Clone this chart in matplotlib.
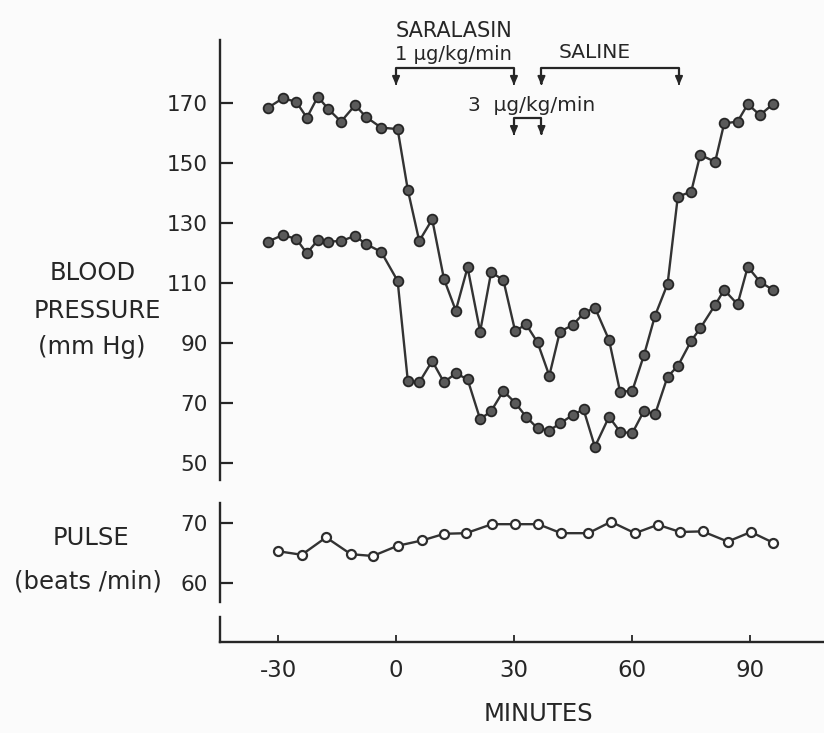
import numpy as np
from matplotlib import pyplot as plt

# 数据
minutes_bp = [-32.6, -28.8, -25.4, -22.7, -19.9, -17.2, -14.0, -10.4, -7.7, -3.8,
              0.4, 3.0, 5.9, 9.2, 12.2, 15.2, 18.2, 21.4, 24.2, 27.3,
              30.3, 33.1, 36.0, 39.0, 41.7, 45.0, 47.7, 50.6, 54.2, 57.0,
              60.1, 63.1, 65.9, 69.1, 71.7, 75.1, 77.4, 81.2, 83.5, 86.9,
              89.5, 92.6, 95.9]
systolic = [168.4, 171.6, 170.4, 165.1, 172.1, 167.9, 163.8, 169.3, 165.4, 161.8,
            161.3, 141.0, 124.0, 131.2, 111.3, 100.8, 115.2, 93.8, 113.6, 111.0,
            94.0, 96.2, 90.2, 79.1, 93.8, 96.0, 99.9, 101.8, 91.0, 73.8,
            74.0, 86.0, 99.1, 109.7, 138.8, 140.4, 152.7, 150.4, 163.2, 163.8,
            169.6, 166.0, 169.6]
diastolic = [123.8, 126.0, 124.7, 119.9, 124.3, 123.8, 124.0, 125.7, 123.0, 120.4,
             110.7, 77.3, 76.9, 84.0, 76.9, 79.9, 77.9, 64.6, 67.3, 74.0,
             70.1, 65.4, 61.6, 60.8, 63.2, 66.0, 67.9, 55.4, 65.4, 60.4,
             59.9, 67.4, 66.2, 78.8, 82.3, 90.7, 94.9, 102.7, 107.7, 102.9,
             115.4, 110.4, 107.7]

minutes_pulse = [-30.1, -24.0, -17.8, -11.5, -5.9, 0.4, 6.7, 12.3, 17.8, 24.4, 30.3,
                 36.2, 42.0, 48.9, 54.7, 60.8, 66.6, 72.3, 78.0, 84.4, 90.3, 96.0]
pulse = [65.3, 64.7, 67.6, 64.8, 64.5, 66.2, 67.1, 68.2, 68.3, 69.8, 69.8,
         69.8, 68.3, 68.3, 70.2, 68.3, 69.7, 68.5, 68.6, 66.9, 68.5, 66.7]

bp_ticks = [50, 70, 90, 110, 130, 150, 170]
pulse_ticks = [60, 70]
x_ticks = [-30, 0, 30, 60, 90]
x_labels = ['-30', '0', '30', '60', '90']

# 给药时段 (开始, 结束)
saralasin_1 = (0, 30)
saralasin_3 = (30, 37)
saline = (37, 72)

ink = '#262626'
plt.rcParams['font.family'] = ['DejaVu Sans']
plt.rcParams['text.color'] = ink

W, H = 824, 733
fig = plt.figure(figsize=(W / 100, H / 100), dpi=100, facecolor='#fbfbfb')
xlim = (-44.8, 108.9)


def box(top, bottom):
    return [220 / W, (H - bottom) / H, (W - 220) / W, (bottom - top) / H]


ax_bp = fig.add_axes(box(40, 480))
ax_pu = fig.add_axes(box(503, 602))
ax_x = fig.add_axes(box(617, 642))

for ax in (ax_bp, ax_pu, ax_x):
    ax.set_facecolor('none')
    ax.set_xlim(xlim)
    for s in ('top', 'right'):
        ax.spines[s].set_visible(False)
    ax.spines['left'].set_linewidth(1.7)
    ax.spines['left'].set_color(ink)

for ax in (ax_bp, ax_pu):
    ax.spines['bottom'].set_visible(False)
    ax.set_xticks([])
    ax.tick_params(axis='y', direction='in', length=9, width=1.6, pad=9,
                   labelsize=15.5, colors=ink)

# 血压
ax_bp.set_ylim(44.33, 191)
ax_bp.set_yticks(bp_ticks)
line_kw = dict(color='#333333', lw=1.7, marker='o', markersize=7,
               mfc='#5a5a5a', mec='#262626', mew=1.3)
ax_bp.plot(minutes_bp, systolic, **line_kw)
ax_bp.plot(minutes_bp, diastolic, **line_kw)

# 脉搏
ax_pu.set_ylim(56.83, 73.33)
ax_pu.set_yticks(pulse_ticks)
ax_pu.plot(minutes_pulse, pulse, color='#333333', lw=1.7, marker='o', markersize=6.5,
           mfc='white', mec='#2e2e2e', mew=1.6)

# x轴
ax_x.set_ylim(0, 1)
ax_x.set_yticks([])
ax_x.spines['bottom'].set_linewidth(1.7)
ax_x.spines['bottom'].set_color(ink)
ax_x.set_xticks(x_ticks)
ax_x.set_xticklabels(x_labels)
ax_x.tick_params(axis='x', direction='in', length=5, width=1.3, pad=12,
                 labelsize=16.5, colors=ink)


# 标注括号
def bracket(ax, x0, x1, y_top, y_tip):
    ax.plot([x0, x0, x1, x1], [y_tip + 2, y_top, y_top, y_tip + 2],
            color=ink, lw=1.6, clip_on=False)
    for xx in (x0, x1):
        ax.annotate('', xy=(xx, y_tip), xytext=(xx, y_tip + 2.5),
                    arrowprops=dict(arrowstyle='-|>,head_length=0.5,head_width=0.22',
                                    color=ink, lw=1.4), annotation_clip=False)


bracket(ax_bp, saralasin_1[0], saralasin_1[1], 181.7, 175)
bracket(ax_bp, saline[0], saline[1], 181.7, 175)
bracket(ax_bp, saralasin_3[0], saralasin_3[1], 165, 158.3)

ax_bp.text(-0.2, 193.9, 'SARALASIN', fontsize=15, ha='left', va='center', clip_on=False)
ax_bp.text(-0.2, 186.3, '1 µg/kg/min', fontsize=14, ha='left', va='center', clip_on=False)
ax_bp.text(41.3, 186.8, 'SALINE', fontsize=14.5, ha='left', va='center', clip_on=False)
ax_bp.text(18.3, 169.2, '3  µg/kg/min', fontsize=14.5, ha='left', va='center', clip_on=False)

# 轴标题
lab = dict(ha='center', va='center', fontsize=17.5)
fig.text(93 / W, 1 - 273.5 / H, 'BLOOD', **lab)
fig.text(97 / W, 1 - 311 / H, 'PRESSURE', **lab)
fig.text(92 / W, 1 - 347 / H, '(mm Hg)', **lab)
fig.text(91 / W, 1 - 538 / H, 'PULSE', **lab)
fig.text(88 / W, 1 - 582 / H, '(beats /min)', **lab)
fig.text(538 / W, 1 - 714 / H, 'MINUTES', ha='center', va='center', fontsize=17.5)

plt.savefig('out.png', dpi=100, facecolor=fig.get_facecolor())
